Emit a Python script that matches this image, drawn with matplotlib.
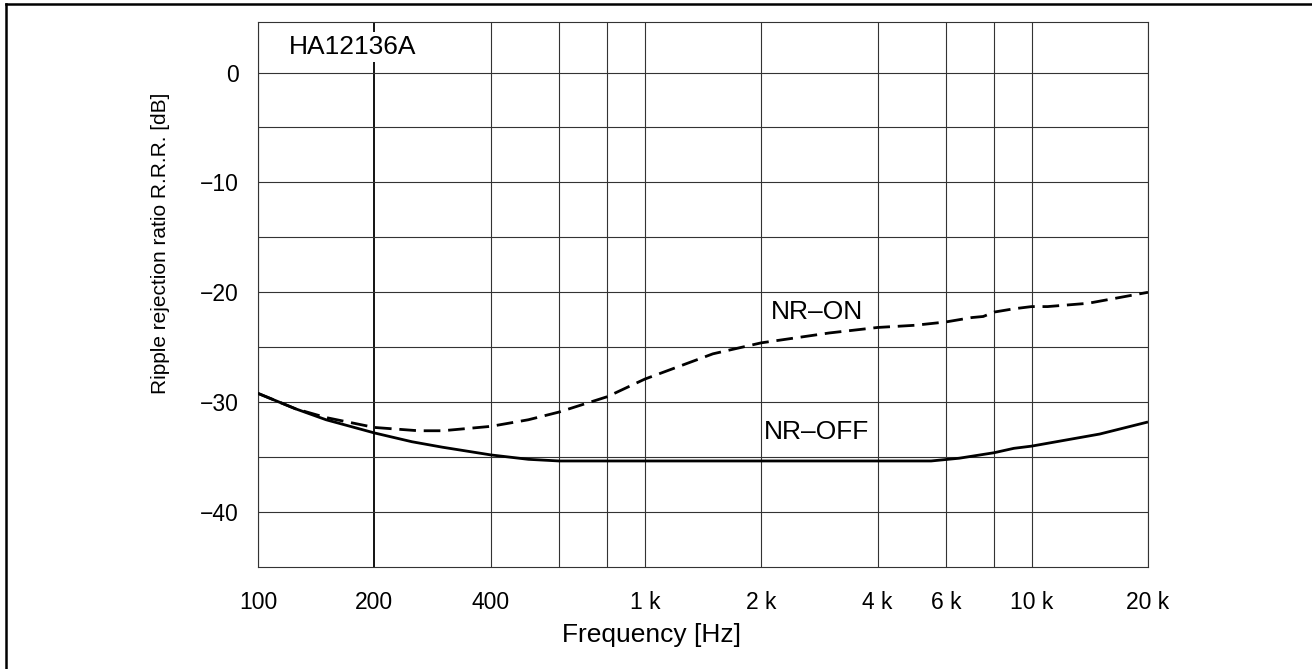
import matplotlib
matplotlib.use("Agg")
import matplotlib.pyplot as plt
from matplotlib.lines import Line2D

plt.rcParams['font.family'] = ['Liberation Sans', 'DejaVu Sans']

# Data
freq_off = [100, 125, 150, 200, 250, 300, 400, 500, 600, 1000, 2000, 4000, 5500, 6500, 8000, 9000, 10000, 15000, 20000]
rrr_off = [-29.2, -30.6, -31.6, -32.8, -33.6, -34.1, -34.8, -35.2, -35.35, -35.35, -35.35, -35.35, -35.35, -35.1, -34.6, -34.2, -34.0, -32.9, -31.8]

freq_on = [100, 125, 150, 200, 260, 300, 400, 500, 600, 800, 1000, 1500, 2000, 3000, 4000, 5000, 6000, 7000, 7500, 8000, 9000, 10000, 11000, 14000, 20000]
rrr_on = [-29.2, -30.6, -31.4, -32.3, -32.6, -32.6, -32.2, -31.6, -30.9, -29.5, -27.9, -25.6, -24.6, -23.7, -23.2, -23.0, -22.7, -22.3, -22.2, -21.8, -21.5, -21.3, -21.3, -21.0, -20.0]

grid_freqs = [100, 200, 400, 600, 800, 1000, 2000, 4000, 6000, 8000, 10000, 20000]
xtick_vals = [100, 200, 400, 1000, 2000, 4000, 6000, 10000, 20000]
xtick_labels = ['100', '200', '400', '1 k', '2 k', '4 k', '6 k', '10 k', '20 k']
ytick_vals = [0, -10, -20, -30, -40]
ytick_labels = ['0', '\u221210', '\u221220', '\u221230', '\u221240']
grid_db = [0, -5, -10, -15, -20, -25, -30, -35, -40]

W, H = 1312, 669
fig = plt.figure(figsize=(W / 100, H / 100), dpi=100)
ax = fig.add_axes([258 / W, (H - 567) / H, 890 / W, (567 - 22) / H])
ax.set_xscale('log')
ax.set_xlim(100, 20000)
ax.set_ylim(-45, 4.6)

gcol = '#333333'
for f in grid_freqs:
    if f == 200:
        ax.axvline(f, color='black', lw=1.3, zorder=1)
    else:
        ax.axvline(f, color=gcol, lw=0.8, zorder=1)
for d in grid_db:
    ax.axhline(d, color=gcol, lw=0.8, zorder=1)
for s in ax.spines.values():
    s.set_color(gcol)
    s.set_linewidth(0.8)

ax.plot(freq_off, rrr_off, color='black', lw=2.0, zorder=3, solid_capstyle='butt')
ax.plot(freq_on, rrr_on, color='black', lw=2.0, dashes=(6.0, 2.8), zorder=3)

ax.set_xticks(xtick_vals)
ax.set_xticklabels(xtick_labels)
ax.set_xticks([], minor=True)
ax.set_yticks(ytick_vals)
ax.set_yticklabels(ytick_labels)
ax.tick_params(axis='both', length=0, labelsize=16.5)
ax.tick_params(axis='x', pad=17)
ax.tick_params(axis='y', pad=14)

ax.text(176, 2.3, 'HA12136A', fontsize=19, ha='center', va='center', zorder=4,
        bbox=dict(facecolor='white', edgecolor='none', pad=2))
ax.text(2780, -21.8, 'NR\u2013ON', fontsize=19, ha='center', va='center', zorder=4)
ax.text(2780, -32.7, 'NR\u2013OFF', fontsize=19, ha='center', va='center', zorder=4)

fig.text(651 / W, 1 - 635 / H, 'Frequency [Hz]', fontsize=19, ha='center', va='center')
fig.text(161 / W, 1 - 243 / H, 'Ripple rejection ratio R.R.R. [dB]', fontsize=15,
         ha='center', va='center', rotation=90)

# partial frame (top and left edges)
fig.add_artist(Line2D([6 / W, 1], [1 - 4 / H, 1 - 4 / H], transform=fig.transFigure, color='black', lw=1.8))
fig.add_artist(Line2D([6 / W, 6 / W], [0, 1 - 4 / H], transform=fig.transFigure, color='black', lw=1.8))

fig.savefig('out.png', dpi=100)
